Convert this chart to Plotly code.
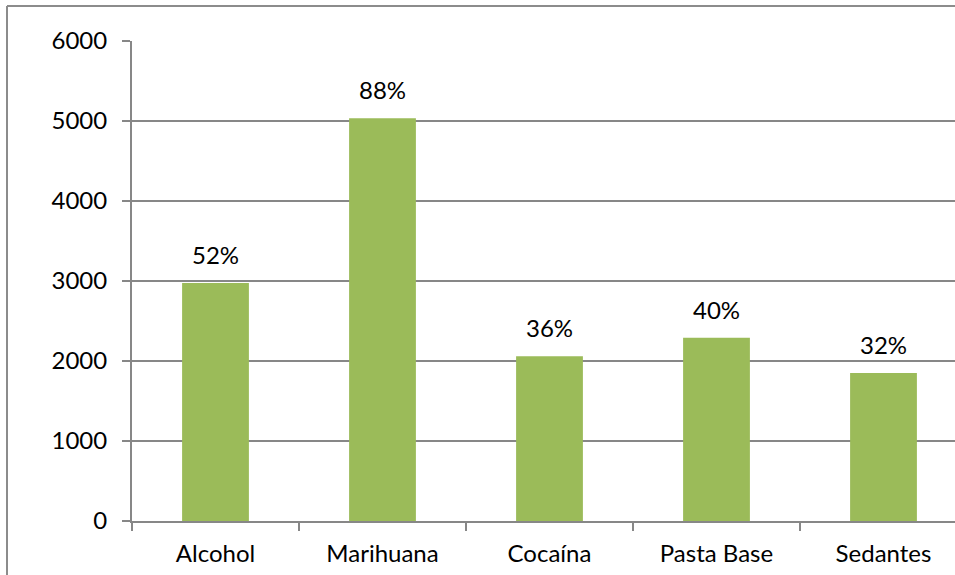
import plotly.graph_objects as go

categories = ["Alcohol", "Marihuana", "Cocaína", "Pasta Base", "Sedantes"]
values = [2975, 5035, 2060, 2290, 1850]
pct_labels = ["52%", "88%", "36%", "40%", "32%"]
y_ticks = [0, 1000, 2000, 3000, 4000, 5000, 6000]

W, H = 955, 575
L, R, T, B = 132, 0, 41, 54
pw = W - L - R
cat_px = 167.0
x_hi = -0.5 + pw / cat_px
FS = 24

fig = go.Figure()
fig.add_trace(go.Bar(x=categories, y=values, marker=dict(color="#9BBB59", line=dict(width=0)),
                     width=0.4, hoverinfo="skip"))

for c, v, t in zip(categories, values, pct_labels):
    fig.add_annotation(x=c, y=v, text=t, showarrow=False, yanchor="bottom", yshift=12,
                       font=dict(size=FS, color="#000000", family="Lato"))

gray = "#878787"
fig.update_layout(
    width=W, height=H,
    margin=dict(l=L, r=R, t=T, b=B, pad=0),
    paper_bgcolor="white", plot_bgcolor="white",
    showlegend=False,
    font=dict(family="Lato", size=FS, color="#000000"),
    xaxis=dict(type="category", range=[-0.5, x_hi], showgrid=False,
               showline=True, linecolor=gray, linewidth=2,
               ticks="outside", tickson="boundaries", ticklen=8, tickcolor=gray, tickwidth=2,
               ticklabelstandoff=10, tickfont=dict(size=FS)),
    yaxis=dict(range=[0, 6000], tickvals=y_ticks, showgrid=True, gridcolor=gray, gridwidth=2,
               showline=True, linecolor=gray, linewidth=2, zeroline=False,
               ticks="outside", ticklen=8, tickcolor=gray, tickwidth=2,
               ticklabelstandoff=10, tickfont=dict(size=FS)),
    shapes=[
        dict(type="line", xref="paper", yref="paper",
             x0=(7 - L) / pw, x1=(7 - L) / pw, y0=(H - B - 575) / (H - T - B) - 0.01, y1=(H - B - 6) / (H - T - B),
             line=dict(color="#8c8c8c", width=2)),
        dict(type="line", xref="paper", yref="paper",
             x0=(7 - L) / pw, x1=1.01, y0=(H - B - 6) / (H - T - B), y1=(H - B - 6) / (H - T - B),
             line=dict(color="#8c8c8c", width=2)),
    ],
)

fig.write_html("out.html")
